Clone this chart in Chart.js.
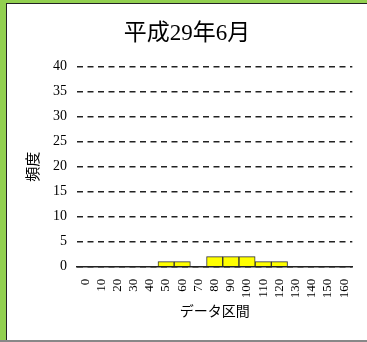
<!DOCTYPE html>
<html>
<head>
<meta charset="utf-8">
<script src="https://cdn.jsdelivr.net/npm/chart.js@4"></script>
<style>
  html, body { margin: 0; padding: 0; }
  body { width: 367px; height: 342px; background: #92d050; position: relative; overflow: hidden; }
  #frame { position: absolute; left: 6px; top: 3px; width: 361px; height: 336px; background: #fff;
           border-left: 1px solid #222; border-top: 1px solid #222; }
  #bottom { position: absolute; left: 0; top: 340px; width: 367px; height: 2px; background: #888; }
  #box { position: absolute; left: 2px; top: 1px; width: 355px; height: 332px; }
</style>
</head>
<body>
<div id="frame"><div id="box"><canvas id="chartBox"></canvas></div></div>
<div id="bottom"></div>
<script>
const labels = ['0', '10', '20', '30', '40', '50', '60', '70', '80', '90', '100', '110', '120', '130', '140', '150', '160']
const counts = [0, 0, 0, 0, 0, 1, 1, 0, 2, 2, 2, 1, 1, 0, 0, 0, 0]
const title = '平成29年6月'
const serif = "'Liberation Serif', 'DejaVu Serif', 'Noto Sans CJK JP', serif"

const context = document.querySelector('#chartBox').getContext('2d')
const chart = new Chart(context, {
    type: 'bar',
    data: {
        labels,
        datasets: [{
            label: '頻度',
            backgroundColor: '#ffff00',
            borderColor: '#333333',
            borderWidth: 1,
            barPercentage: 1,
            categoryPercentage: 1,
            data: counts
        }]
    },
    options: {
        responsive: true,
        maintainAspectRatio: false,
        animation: false,
        layout: { padding: { left: 7, right: 6, top: 7, bottom: 12 } },
        plugins: {
            legend: { display: false },
            tooltip: { enabled: false },
            title: {
                display: true,
                text: title,
                color: '#000',
                font: { family: serif, size: 23, weight: 'normal' },
                padding: { top: 8, bottom: 19 }
            }
        },
        scales: {
            x: {
                grid: { display: false },
                border: { display: true, color: '#222', width: 1.5 },
                ticks: {
                    color: '#000',
                    font: { family: serif, size: 13 },
                    autoSkip: false,
                    maxRotation: 90,
                    minRotation: 90,
                    padding: 4
                },
                title: {
                    display: true,
                    text: 'データ区間',
                    color: '#000',
                    font: { family: serif, size: 14 },
                    padding: { top: 2 }
                }
            },
            y: {
                min: 0,
                max: 40,
                ticks: {
                    stepSize: 5,
                    color: '#000',
                    font: { family: serif, size: 14 },
                    padding: 10
                },
                grid: { color: '#222', lineWidth: 1.5, drawTicks: false },
                border: { display: false, dash: [6, 4.5] },
                title: {
                    display: true,
                    text: '頻度',
                    color: '#000',
                    font: { family: serif, size: 15 },
                    padding: { top: 9, bottom: 0 }
                }
            }
        }
    }
})
</script>
</body>
</html>
